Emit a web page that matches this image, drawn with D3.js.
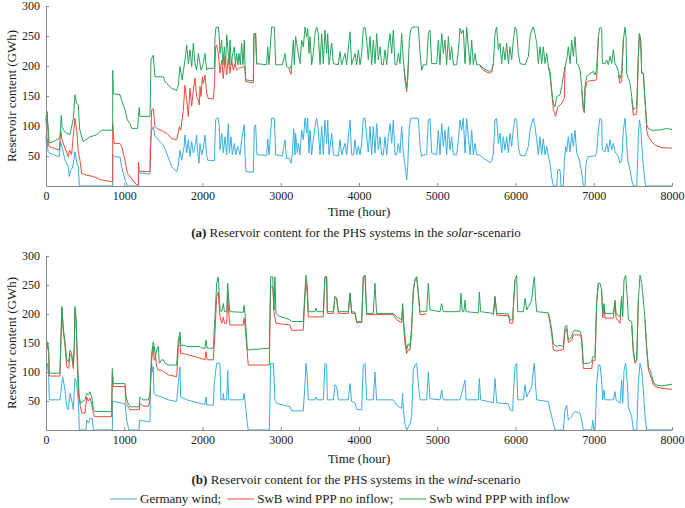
<!DOCTYPE html>
<html><head><meta charset="utf-8">
<script src="https://cdn.jsdelivr.net/npm/d3@7"></script>
<style>
html,body{margin:0;padding:0;background:#fff;}
svg{display:block;font-family:"Liberation Serif","Times New Roman",serif;}
</style></head>
<body><svg id="c" width="685" height="508"></svg>
<script>
// ---------- axis ticks ----------
const xTicks = [0,1000,2000,3000,4000,5000,6000,7000,8000];
const yTicks = [50,100,150,200,250,300];
const seriesNames = ["Germany wind;","SwB wind PPP no inflow;","Swb wind PPP with inflow"];

// ---------- (a) solar scenario : [hour, GWh] ----------
const solarGermany = [[0,85],[8,62],[15,80],[25,58],[40,55],[94,52],[170,49],[187,74],[210,62],[243,43],[285,32],[297,16],[315,26],[336,30],[350,38],[370,57],[392,40],[413,32],[426,2],[432,0],[852,0],[853,52],[869,49],[946,48],[967,32],[988,21],[1010,10],[1040,0],[1180,0],[1182,22],[1329,20],[1331,60],[1350,93],[1371,99],[1393,83],[1436,77],[1500,68],[1542,55],[1585,40],[1606,32],[1670,24],[1691,35],[1712,60],[1734,43],[1764,65],[1776,85],[1798,55],[1819,77],[1840,49],[1862,74],[1883,55],[1904,66],[1925,85],[1938,57],[1955,38],[1968,71],[1989,52],[2010,63],[2032,85],[2053,52],[2066,43],[2151,42],[2168,110],[2181,113],[2202,113],[2215,99],[2224,60],[2245,88],[2266,55],[2287,82],[2309,52],[2330,104],[2343,55],[2364,82],[2381,52],[2407,71],[2424,52],[2449,66],[2479,52],[2500,77],[2534,102],[2543,52],[2556,24],[2650,23],[2662,99],[2679,102],[2696,52],[2820,51],[2833,79],[2850,52],[2884,113],[2918,113],[2935,52],[3020,50],[3054,77],[3075,46],[3105,46],[3131,38],[3148,52],[3165,96],[3182,52],[3190,88],[3212,55],[3225,71],[3246,52],[3267,93],[3289,77],[3310,113],[3331,88],[3344,113],[3361,55],[3374,93],[3395,52],[3416,77],[3438,99],[3459,113],[3480,93],[3502,52],[3523,99],[3544,52],[3565,110],[3587,71],[3600,110],[3617,52],[3651,88],[3672,52],[3736,50],[3757,77],[3778,52],[3821,71],[3842,52],[3885,110],[3906,52],[3930,52],[3949,77],[3970,52],[3992,66],[4013,52],[4034,71],[4055,113],[4077,113],[4098,82],[4119,57],[4141,99],[4162,52],[4183,99],[4205,55],[4226,104],[4247,60],[4268,82],[4290,52],[4311,52],[4332,82],[4354,52],[4375,82],[4396,104],[4418,71],[4439,110],[4460,52],[4481,52],[4503,71],[4524,55],[4545,99],[4567,55],[4588,35],[4609,10],[4622,32],[4643,99],[4660,113],[4758,113],[4780,66],[4801,49],[4822,52],[4865,52],[4886,110],[4907,113],[4929,55],[4993,52],[5014,93],[5035,52],[5057,104],[5078,66],[5099,93],[5120,52],[5142,99],[5163,60],[5184,82],[5206,52],[5248,52],[5270,77],[5291,110],[5312,93],[5333,113],[5355,55],[5376,113],[5397,82],[5419,52],[5440,93],[5461,52],[5483,71],[5504,52],[5546,52],[5589,46],[5632,43],[5674,39],[5696,41],[5717,55],[5738,110],[5759,113],[5781,71],[5802,88],[5823,55],[5845,82],[5866,60],[5887,82],[5909,55],[5930,88],[5951,66],[5972,93],[5994,113],[6015,110],[6036,66],[6058,52],[6122,50],[6164,66],[6186,93],[6207,104],[6228,113],[6249,99],[6271,77],[6292,52],[6313,82],[6335,52],[6356,79],[6377,52],[6399,66],[6420,49],[6441,38],[6462,15],[6484,0],[6527,0],[6539,27],[6569,27],[6582,0],[6611,0],[6624,43],[6641,66],[6654,57],[6675,82],[6697,57],[6718,88],[6739,66],[6761,93],[6782,55],[6803,49],[6825,38],[6854,15],[6867,0],[6888,0],[6897,32],[6910,43],[6931,49],[7016,50],[7037,55],[7059,93],[7080,113],[7101,110],[7110,60],[7144,57],[7165,71],[7186,57],[7208,77],[7229,60],[7250,71],[7272,57],[7314,49],[7335,38],[7357,43],[7378,93],[7400,113],[7412,88],[7434,43],[7464,27],[7485,10],[7506,0],[7549,0],[7570,82],[7583,110],[7600,99],[7621,55],[7647,15],[7664,0],[8000,0]];

const solarNoInflow = [[0,112],[8,95],[15,118],[22,100],[30,70],[40,66],[94,63],[170,60],[187,93],[205,77],[243,63],[285,49],[300,60],[327,52],[350,85],[370,113],[392,93],[413,57],[434,43],[456,21],[520,18],[600,16],[711,10],[852,7],[853,104],[869,71],[946,71],[967,66],[1010,43],[1040,21],[1074,16],[1137,5],[1160,2],[1180,2],[1181,40],[1192,24],[1329,24],[1350,127],[1371,129],[1393,99],[1415,96],[1500,91],[1542,88],[1606,79],[1670,77],[1705,99],[1722,93],[1755,127],[1776,168],[1798,143],[1819,116],[1840,163],[1862,133],[1883,160],[1904,180],[1925,149],[1947,143],[1959,135],[1968,166],[1981,149],[1998,182],[2010,171],[2032,185],[2053,155],[2074,146],[2138,145],[2151,166],[2168,232],[2181,235],[2202,221],[2224,188],[2245,210],[2266,179],[2287,216],[2309,185],[2330,213],[2351,188],[2372,210],[2394,193],[2415,204],[2436,193],[2462,196],[2490,197],[2534,199],[2543,199],[2551,174],[2650,172],[2658,254],[2679,254],[2692,204],[2700,202],[2701,null],
[3105,196],[3118,190],[3131,186],[3139,202],[3140,null],
[4575,195],[4588,178],[4609,157],[4622,178],[4635,215],[4636,null],
[5546,200],[5589,193],[5632,190],[5674,188],[5696,190],[5717,204],[5718,null],
[6420,199],[6441,185],[6462,157],[6484,127],[6513,116],[6539,132],[6569,135],[6590,138],[6624,146],[6633,199],[6634,null],
[6846,160],[6867,126],[6880,122],[6888,160],[6910,172],[6931,175],[6995,176],[7016,176],[7037,178],[7059,249],[7060,null],
[7314,185],[7335,171],[7357,175],[7378,243],[7379,null],
[7485,145],[7506,118],[7549,120],[7570,216],[7583,254],[7600,243],[7613,188],[7634,188],[7647,160],[7655,143],[7668,115],[7676,93],[7698,82],[7740,74],[7783,68],[7868,64],[8000,63]];

const solarWithInflow = [[0,118],[8,100],[15,124],[22,105],[30,95],[40,72],[94,74],[179,80],[195,118],[205,99],[230,92],[264,88],[307,86],[350,113],[370,152],[392,138],[413,135],[430,95],[443,88],[477,74],[562,82],[640,85],[711,93],[852,93],[853,193],[860,154],[946,152],[967,143],[1010,127],[1040,110],[1074,104],[1095,96],[1172,96],[1180,116],[1192,131],[1200,116],[1329,116],[1342,210],[1371,218],[1393,182],[1500,182],[1520,174],[1542,171],[1606,163],[1670,159],[1691,168],[1712,199],[1740,177],[1776,210],[1798,235],[1819,204],[1840,227],[1862,199],[1883,238],[1904,204],[1925,193],[1947,221],[1981,193],[2010,204],[2032,221],[2053,193],[2066,196],[2151,196],[2160,249],[2172,264],[2202,265],[2211,254],[2224,221],[2245,243],[2262,202],[2279,232],[2296,202],[2309,252],[2330,221],[2343,202],[2351,243],[2368,202],[2381,216],[2407,232],[2420,202],[2436,221],[2453,202],[2466,221],[2483,202],[2500,238],[2517,202],[2534,243],[2543,202],[2551,177],[2650,175],[2658,254],[2679,254],[2692,204],[2820,202],[2833,232],[2850,202],[2884,265],[2918,265],[2935,202],[3020,202],[3054,221],[3075,199],[3118,196],[3139,202],[3161,243],[3173,202],[3190,249],[3203,238],[3225,221],[3246,204],[3267,243],[3289,232],[3310,265],[3331,249],[3344,263],[3361,221],[3374,249],[3395,202],[3416,221],[3438,254],[3459,265],[3480,254],[3502,202],[3523,254],[3544,204],[3565,260],[3587,221],[3600,254],[3617,202],[3651,238],[3672,204],[3736,202],[3757,224],[3778,202],[3821,221],[3842,202],[3885,257],[3906,202],[3949,221],[3970,202],[3992,227],[4013,202],[4034,221],[4055,263],[4077,265],[4098,243],[4119,210],[4141,249],[4162,202],[4183,243],[4205,204],[4226,254],[4247,210],[4268,232],[4290,202],[4311,202],[4332,227],[4354,202],[4375,232],[4396,254],[4418,221],[4439,260],[4460,202],[4481,202],[4503,221],[4524,204],[4545,254],[4567,210],[4588,182],[4609,163],[4622,182],[4643,243],[4660,260],[4686,265],[4758,265],[4780,221],[4801,193],[4822,202],[4865,202],[4886,254],[4907,260],[4929,204],[4993,204],[5014,243],[5035,202],[5057,254],[5078,221],[5099,243],[5120,202],[5142,249],[5163,210],[5184,232],[5206,202],[5248,202],[5270,227],[5291,263],[5312,254],[5333,260],[5355,204],[5376,265],[5397,232],[5419,202],[5440,243],[5461,202],[5483,221],[5504,202],[5546,202],[5589,196],[5632,193],[5674,191],[5696,193],[5717,204],[5738,254],[5759,265],[5781,227],[5802,238],[5823,204],[5845,232],[5866,210],[5887,238],[5909,204],[5930,232],[5951,210],[5972,243],[5994,265],[6015,260],[6036,221],[6058,204],[6122,202],[6164,216],[6186,249],[6207,260],[6228,265],[6249,254],[6271,238],[6292,204],[6313,232],[6335,204],[6356,232],[6377,204],[6399,221],[6420,199],[6441,191],[6462,160],[6484,138],[6505,132],[6527,149],[6569,152],[6590,166],[6611,182],[6633,199],[6654,210],[6675,232],[6697,204],[6718,243],[6739,216],[6761,249],[6782,204],[6803,202],[6825,193],[6846,166],[6867,132],[6880,127],[6888,166],[6910,182],[6931,185],[6995,191],[7016,185],[7037,193],[7059,249],[7080,265],[7101,263],[7110,204],[7144,204],[7165,210],[7186,202],[7208,216],[7229,204],[7250,227],[7272,204],[7293,199],[7314,191],[7335,179],[7357,188],[7378,243],[7400,265],[7412,249],[7421,188],[7442,179],[7464,171],[7485,149],[7506,127],[7549,132],[7570,216],[7583,254],[7600,243],[7613,188],[7634,188],[7647,160],[7655,143],[7668,121],[7676,102],[7698,96],[7740,93],[7804,93],[7868,94],[7932,96],[8000,94]];

// ---------- (b) wind scenario : [hour, GWh] ----------
const windGermany = [[0,103],[8,103],[21,115],[34,92],[42,52],[179,52],[213,92],[243,69],[264,40],[285,35],[307,63],[328,52],[349,35],[370,89],[383,86],[400,69],[417,40],[426,0],[510,0],[520,17],[545,12],[562,20],[590,20],[605,0],[848,0],[850,50],[1010,45],[1030,17],[1060,0],[1190,0],[1193,17],[1329,14],[1335,92],[1350,115],[1362,100],[1370,109],[1380,63],[1400,60],[1478,57],[1563,52],[1670,49],[1690,80],[1712,109],[1720,57],[1800,52],[1968,46],[2030,44],[2045,57],[2055,43],[2138,43],[2150,80],[2181,115],[2224,115],[2235,52],[2260,52],[2266,63],[2275,52],[2310,52],[2322,103],[2335,52],[2521,52],[2530,63],[2543,52],[2555,35],[2573,11],[2585,0],[2854,0],[2871,115],[2905,115],[2926,52],[2947,46],[3118,40],[3139,33],[3288,33],[3310,80],[3322,115],[3339,92],[3352,52],[3437,52],[3450,57],[3467,52],[3544,52],[3565,115],[3587,112],[3595,52],[3672,52],[3693,78],[3714,75],[3736,52],[3863,52],[3885,80],[3906,49],[3949,47],[3970,35],[4034,35],[4055,112],[4077,115],[4098,52],[4183,52],[4204,100],[4225,52],[4438,52],[4481,43],[4545,37],[4558,63],[4567,34],[4588,11],[4609,0],[4652,11],[4673,23],[4694,103],[4716,112],[4737,115],[4758,80],[4779,52],[4865,52],[4886,100],[4907,54],[5035,52],[5056,69],[5078,52],[5290,52],[5355,86],[5368,52],[5525,52],[5538,89],[5555,52],[5717,47],[5738,89],[5760,47],[5909,45],[5930,35],[5964,33],[5973,63],[5994,109],[6015,115],[6028,52],[6100,52],[6122,78],[6143,57],[6164,63],[6186,69],[6207,75],[6228,103],[6241,115],[6254,80],[6271,52],[6420,49],[6441,35],[6463,23],[6484,11],[6505,0],[6611,0],[6633,35],[6654,43],[6675,17],[6718,23],[6739,29],[6761,32],[6825,29],[6846,17],[6867,0],[6974,0],[6987,17],[7004,0],[7016,0],[7038,80],[7059,112],[7080,112],[7101,86],[7114,52],[7131,69],[7144,52],[7250,52],[7272,66],[7285,52],[7336,46],[7357,86],[7370,46],[7387,103],[7408,115],[7430,80],[7442,40],[7485,23],[7506,0],[7549,0],[7570,80],[7591,115],[7613,103],[7634,69],[7655,23],[7676,0],[8000,0]];

const windNoInflow = [[0,135],[8,138],[21,146],[34,132],[42,93],[179,93],[192,160],[204,210],[221,170],[243,145],[264,109],[290,106],[307,132],[328,126],[349,106],[362,140],[370,207],[383,190],[400,115],[415,60],[426,52],[440,40],[460,29],[498,29],[520,57],[540,50],[562,55],[585,45],[605,29],[620,23],[839,23],[848,98],[860,75],[1010,75],[1022,46],[1050,40],[1073,35],[1193,35],[1200,46],[1243,41],[1310,41],[1329,52],[1350,120],[1371,144],[1384,120],[1400,126],[1414,110],[1435,103],[1478,103],[1500,101],[1563,95],[1670,92],[1690,140],[1712,161],[1720,132],[1780,131],[1968,124],[2032,121],[2045,135],[2060,121],[2138,121],[2160,170],[2181,230],[2202,238],[2224,195],[2245,184],[2266,195],[2280,184],[2310,184],[2322,236],[2335,200],[2351,181],[2521,181],[2530,193],[2543,181],[2555,160],[2585,112],[2854,112],[2871,247],[2897,247],[2914,204],[2939,184],[3118,181],[3139,172],[3288,172],[3310,230],[3322,253],[3339,235],[3352,195],[3544,195],[3565,264],[3587,264],[3595,201],[3672,201],[3693,230],[3714,227],[3736,201],[3863,201],[3885,236],[3906,201],[3949,201],[3970,185],[4034,185],[4055,264],[4077,267],[4098,199],[4438,199],[4481,190],[4545,185],[4558,215],[4567,185],[4588,149],[4609,132],[4630,138],[4652,138],[4673,170],[4694,241],[4716,259],[4737,264],[4758,236],[4779,199],[4865,200],[4866,null],
[5717,198],[5738,230],[5760,198],[5909,197],[5930,184],[5964,184],[5973,213],[5994,259],[5995,null],
[6420,200],[6441,186],[6463,165],[6484,138],[6527,136],[6569,138],[6611,138],[6633,170],[6654,175],[6675,151],[6718,155],[6739,164],[6825,164],[6846,155],[6867,106],[6974,106],[6987,120],[7016,120],[7038,220],[7059,253],[7060,null],
[7101,241],[7114,193],[7131,210],[7144,193],[7250,193],[7272,220],[7285,193],[7336,184],[7357,230],[7358,null],
[7485,180],[7506,132],[7527,115],[7549,118],[7570,224],[7571,null],
[7655,190],[7676,140],[7698,105],[7719,95],[7740,88],[7762,78],[7783,75],[7868,72],[8000,70]];

const windWithInflow = [[0,141],[8,141],[21,152],[34,138],[42,98],[179,98],[192,167],[204,213],[221,175],[243,152],[264,121],[290,118],[307,138],[328,132],[349,112],[362,150],[370,213],[383,195],[400,130],[415,80],[426,57],[440,46],[498,52],[520,63],[540,61],[562,66],[585,57],[605,35],[620,32],[839,32],[848,106],[860,80],[1010,80],[1022,57],[1050,46],[1073,40],[1193,40],[1200,57],[1220,54],[1243,52],[1310,52],[1329,63],[1350,132],[1371,152],[1384,144],[1400,126],[1414,138],[1435,144],[1448,115],[1478,121],[1500,121],[1520,115],[1563,112],[1670,112],[1690,155],[1712,169],[1720,146],[1780,146],[1800,144],[1968,144],[1990,141],[2032,141],[2045,155],[2060,141],[2138,141],[2160,195],[2181,253],[2202,264],[2224,207],[2245,204],[2266,218],[2280,204],[2310,204],[2322,253],[2335,224],[2351,204],[2500,203],[2521,203],[2530,215],[2543,201],[2555,178],[2573,138],[2854,141],[2871,264],[2897,264],[2914,207],[2926,264],[2939,201],[2969,197],[3118,190],[3139,187],[3288,187],[3310,241],[3322,267],[3339,247],[3352,204],[3437,204],[3450,210],[3467,204],[3544,204],[3565,264],[3587,264],[3595,204],[3672,204],[3693,230],[3714,227],[3736,204],[3863,204],[3885,236],[3906,204],[3949,203],[3970,187],[4034,187],[4055,264],[4077,267],[4098,201],[4183,201],[4204,253],[4225,201],[4438,201],[4481,195],[4545,190],[4558,218],[4567,190],[4588,161],[4609,138],[4630,149],[4652,144],[4673,178],[4694,241],[4716,259],[4737,264],[4758,236],[4779,204],[4865,204],[4886,253],[4907,207],[5035,204],[5056,218],[5078,204],[5290,204],[5303,236],[5320,204],[5340,204],[5355,224],[5368,204],[5525,202],[5538,238],[5555,204],[5717,201],[5738,230],[5760,201],[5909,200],[5930,190],[5964,190],[5973,213],[5994,259],[6015,267],[6028,204],[6100,204],[6122,227],[6143,207],[6164,213],[6186,218],[6207,224],[6228,253],[6241,264],[6254,230],[6271,204],[6420,202],[6441,190],[6463,172],[6484,149],[6527,144],[6569,146],[6611,144],[6633,178],[6654,181],[6675,155],[6718,161],[6739,170],[6761,172],[6825,170],[6846,161],[6867,115],[6931,115],[6974,118],[6987,126],[7016,126],[7038,224],[7059,253],[7080,253],[7101,241],[7114,201],[7131,218],[7144,201],[7250,201],[7272,224],[7285,201],[7336,195],[7357,230],[7370,195],[7387,259],[7408,267],[7430,224],[7442,190],[7485,187],[7506,138],[7527,118],[7549,121],[7570,224],[7591,267],[7613,253],[7634,224],[7655,190],[7676,144],[7698,109],[7719,103],[7740,94],[7762,83],[7783,78],[7868,76],[8000,79]];

// ---------- drawing ----------
const colors = ["#3aaee2","#ee4b3b","#25a55b"];
const svg = d3.select("#c");
const X0 = 46, X1 = 672;

function panel(top, bottom, data, caption, extra){
  const x = d3.scaleLinear().domain([0,8000]).range([X0,X1]);
  const y = d3.scaleLinear().domain([0,300]).range([bottom,top]);
  const g = svg.append("g");

  const line = d3.line().defined(d => d[1] !== null).x(d => x(d[0])).y(d => y(d[1]));
  data.forEach((s,i) => {
    g.append("path").attr("d", line(s)).attr("fill","none")
      .attr("stroke", colors[i]).attr("stroke-width", 1).attr("stroke-linejoin","round");
  });

  const xa = g.append("g").attr("transform",`translate(0,${bottom})`)
    .call(d3.axisBottom(x).tickValues(xTicks).tickFormat(d3.format("d")).tickSizeInner(-3).tickSizeOuter(0).tickPadding(5));
  const ya = g.append("g").attr("transform",`translate(${X0},0)`)
    .call(d3.axisLeft(y).tickValues(yTicks).tickSizeInner(-3).tickSizeOuter(0).tickPadding(6));
  [xa,ya].forEach(a => {
    a.select(".domain").attr("stroke","#8a8a8a");
    a.selectAll(".tick line").attr("stroke","#8a8a8a");
    a.selectAll("text").attr("font-family","Liberation Serif").attr("font-size",12).attr("fill","#1a1a1a");
  });

  g.append("text").attr("x",359).attr("y",bottom+30+extra).attr("text-anchor","middle")
    .attr("font-size",13).attr("fill","#1a1a1a").text("Time (hour)");
  g.append("text").attr("transform",`translate(16,${(top+bottom)/2}) rotate(-90)`)
    .attr("text-anchor","middle").attr("font-size",13).attr("fill","#1a1a1a").text("Reservoir content (GWh)");

  const cap = g.append("text").attr("x",356).attr("y",bottom+51+extra).attr("text-anchor","middle")
    .attr("font-size",13).attr("fill","#1a1a1a");
  cap.append("tspan").attr("font-weight","bold").text(caption[0]);
  cap.append("tspan").text(caption[1]);
  cap.append("tspan").attr("font-style","italic").text(caption[2]);
  cap.append("tspan").text(caption[3]);
}

panel(6, 186, [solarGermany, solarNoInflow, solarWithInflow],
  ["(a)"," Reservoir content for the PHS systems in the ","solar","-scenario"], 0);
panel(256, 430, [windGermany, windNoInflow, windWithInflow],
  ["(b)"," Reservoir content for the PHS systems in the ","wind","-scenario"], 3);

// ---------- legend ----------
const lg = svg.append("g");
let lx = 110; const ly = 503;
seriesNames.forEach((n,i) => {
  lg.append("line").attr("x1",lx).attr("x2",lx+27).attr("y1",ly-4).attr("y2",ly-4)
    .attr("stroke",colors[i]).attr("stroke-width",1);
  const t = lg.append("text").attr("x",lx+30).attr("y",ly).attr("font-size",13).attr("fill","#1a1a1a").text(n);
  lx += 30 + t.node().getComputedTextLength() + 6;
});
</script></body></html>
